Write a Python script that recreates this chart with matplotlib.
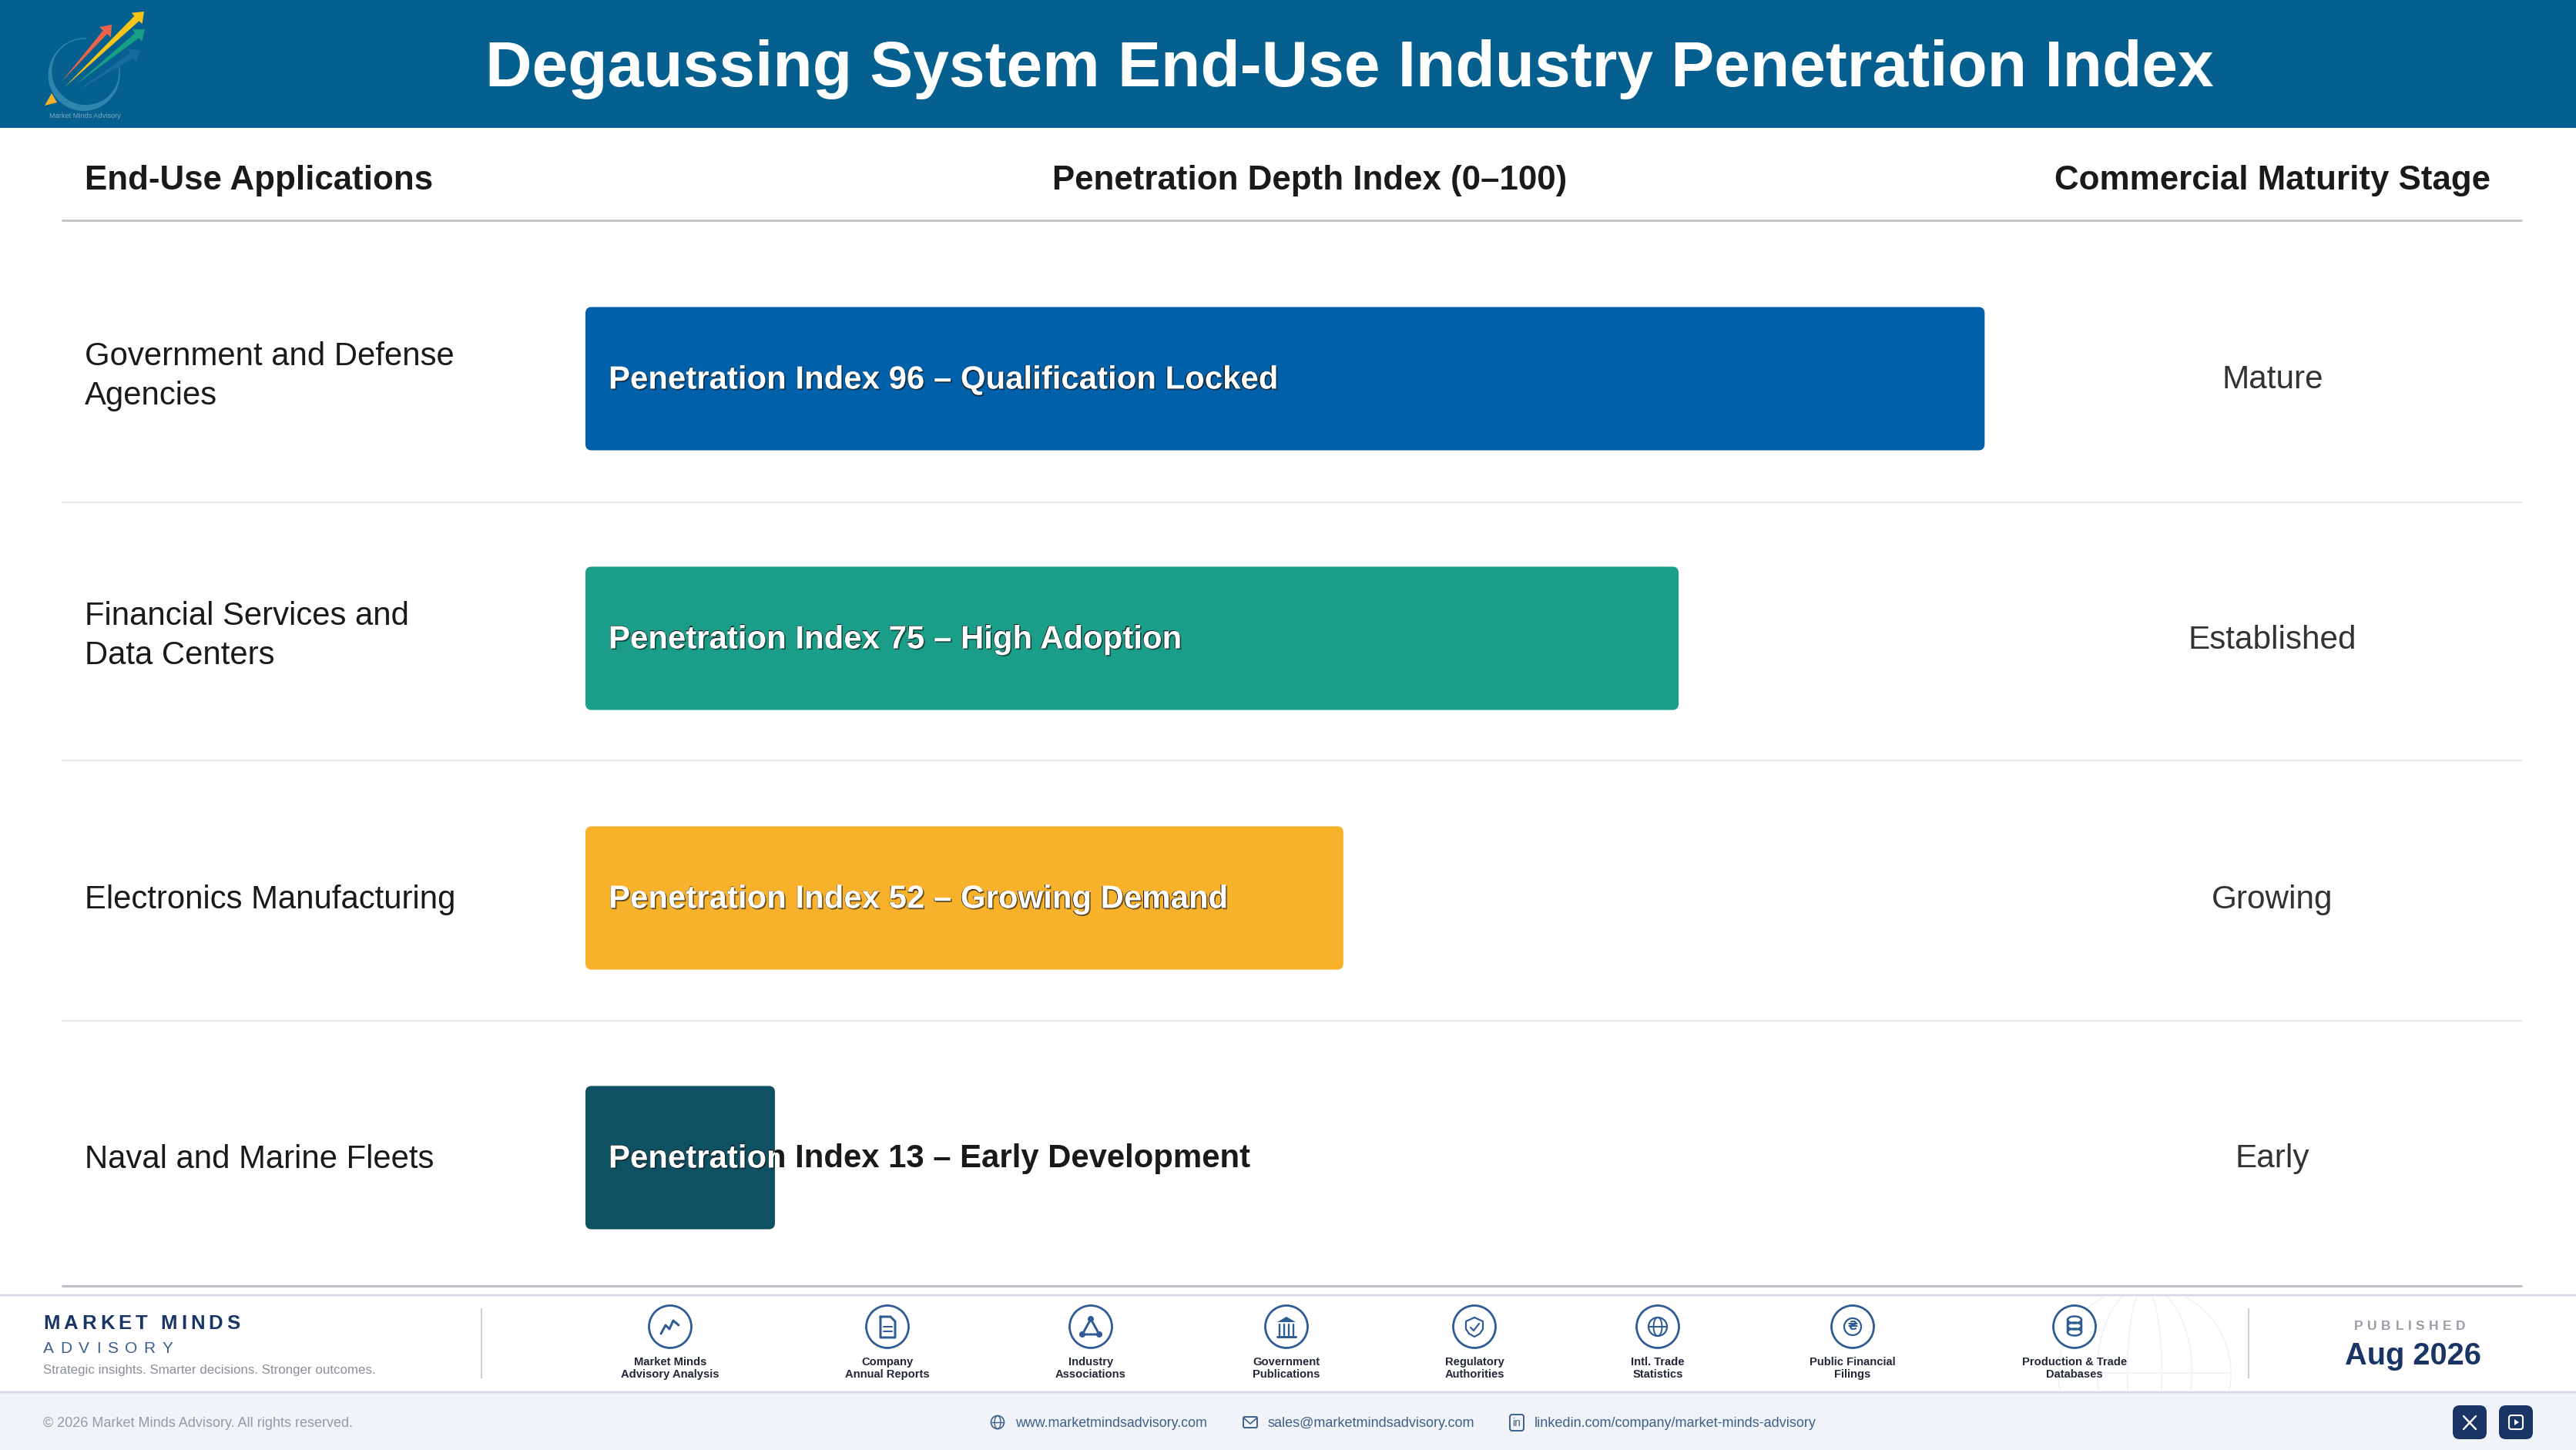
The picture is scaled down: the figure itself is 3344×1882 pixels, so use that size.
import matplotlib
matplotlib.use("Agg")
import matplotlib.pyplot as plt
import matplotlib.patheffects as pe
from matplotlib.patches import Circle, FancyBboxPatch, Polygon, Ellipse, Rectangle
from matplotlib.transforms import blended_transform_factory
import numpy as np

plt.rcParams['font.family'] = ['Liberation Sans', 'DejaVu Sans']

W, H = 3344, 1882

# data
title = "Degaussing System End-Use Industry Penetration Index"
col_heads = ["End-Use Applications", "Penetration Depth Index (0–100)", "Commercial Maturity Stage"]
applications = ["Government and Defense\nAgencies", "Financial Services and\nData Centers",
                "Electronics Manufacturing", "Naval and Marine Fleets"]
index_values = [96, 75, 52, 13]
index_notes = ["Qualification Locked", "High Adoption", "Growing Demand", "Early Development"]
stages = ["Mature", "Established", "Growing", "Early"]
bar_colors = ["#0060A9", "#1A9E8A", "#F8B12A", "#0E5163"]
sources = ["Market Minds\nAdvisory Analysis", "Company\nAnnual Reports", "Industry\nAssociations",
           "Government\nPublications", "Regulatory\nAuthorities", "Intl. Trade\nStatistics",
           "Public Financial\nFilings", "Production & Trade\nDatabases"]
source_x = [870, 1152, 1416, 1670, 1914, 2152, 2405, 2693]

NAVY = "#1A3565"
ICON = "#2F5C94"

fig = plt.figure(figsize=(W / 100, H / 100), dpi=100, facecolor="white")

# whole page axes, in pixels
px = fig.add_axes([0, 0, 1, 1])
px.set_xlim(0, W)
px.set_ylim(H, 0)
px.axis("off")

# bars axes: x is the 0-100 index, y is the row number
bar_left, bar_right = 760, 2652
row_h = 337
top = 491.5 - row_h / 2
ax = fig.add_axes([bar_left / W, 1 - (top + 4 * row_h) / H, (bar_right - bar_left) / W, 4 * row_h / H])
ax.set_xlim(0, 100)
ax.set_ylim(3.5, -0.5)
ax.axis("off")
ax.patch.set_alpha(0)
row_tf = blended_transform_factory(px.transData, ax.transData)
txt_dy = 2 / row_h  # text sits a little under the bar middle


def pxrect(x0, y0, x1, y1, color, z=1):
    px.add_patch(Rectangle((x0, y0), x1 - x0, y1 - y0, fc=color, ec="none", zorder=z))


def pxline(x0, y0, x1, y1, color, lw, z=2):
    px.plot([x0, x1], [y0, y1], color=color, lw=lw * 0.72, solid_capstyle="butt", zorder=z)


def spaced(x, y, s, size, color, gap, weight="normal"):
    # letter spacing by hand, matplotlib has none
    r = fig.canvas.get_renderer()
    for ch in s:
        t = px.text(x, y, ch, fontsize=size, color=color, weight=weight, va="center", ha="left")
        if ch == " ":
            x += size * 0.39 + gap
        else:
            x += t.get_window_extent(r).width + gap


# header band + logo
pxrect(0, 0, W, 166, "#05608F")
px.text(1752, 90, title, color="white", fontsize=60.4, weight="bold", ha="center", va="center")

# logo
t = np.radians(np.linspace(-10, 235, 80))
cx, cy, rad = 110, 95, 45
wid = 1.0 + 5 * np.sin((t - t[0]) / (t[-1] - t[0]) * np.pi) ** 2
for i in range(len(t) - 1):
    px.plot(cx + rad * np.cos(t[i:i + 2]), cy + rad * np.sin(t[i:i + 2]), color="#2E86AC",
            lw=wid[i], solid_capstyle="round", zorder=2)
arc_top = np.radians(np.linspace(235, 272, 14))
px.plot(cx + rad * np.cos(arc_top), cy + rad * np.sin(arc_top), color="#2E86AC", lw=1.0, zorder=2)


def logo_arrow(x0, y0, x1, y1, color, w=7, head=10, alpha=1.0):
    d = np.array([x1 - x0, y1 - y0], float)
    L = np.hypot(*d)
    d /= L
    n = np.array([-d[1], d[0]])
    a, b = np.array([x0, y0], float), np.array([x1, y1], float)
    neck = b - d * 13
    pts = [a, neck + n * w / 2, neck + n * head, b, neck - n * head, neck - n * w / 2]
    px.add_patch(Polygon(pts, closed=True, fc=color, ec="none", alpha=alpha, zorder=3))


logo_arrow(100, 118, 182, 65, "#1F6FA5", w=8, alpha=0.75)
logo_arrow(98, 110, 188, 38, "#17A084", w=8)
logo_arrow(80, 106, 145, 32, "#E8634A", w=7)
logo_arrow(84, 113, 187, 15, "#F7C518", w=9)
px.add_patch(Polygon([(58, 137), (67, 121), (74, 133)], closed=True, fc="#F9B22A", ec="none", zorder=3))
px.text(110, 150, "Market Minds Advisory", fontsize=6.6, color="#7FA9C0", ha="center", va="center")

# column heads
px.text(110, 234, col_heads[0], fontsize=31.6, weight="bold", color="#1A1A1A", ha="left", va="center")
px.text(1700, 234, col_heads[1], fontsize=31.6, weight="bold", color="#1A1A1A", ha="center", va="center")
px.text(2950, 234, col_heads[2], fontsize=31.6, weight="bold", color="#1A1A1A", ha="center", va="center")
pxline(80, 286, 3274, 286, "#C4C6CC", 3)

# row separators
for yy in [652, 987, 1325]:
    pxline(80, yy, 3274, yy, "#E6E8EC", 2)
pxline(80, 1669, 3274, 1669, "#BFC0C7", 3)

# rows
for i, (app, stage) in enumerate(zip(applications, stages)):
    # two-line labels sit a touch higher
    app_dy = -3 / row_h if "\n" in app else txt_dy
    px.text(110, i + app_dy, app, transform=row_tf, fontsize=30.2, color="#1A1A1A", ha="left", va="center", linespacing=1.38)
    px.text(2950, i + txt_dy, stage, transform=row_tf, fontsize=30.4, color="#333333", ha="center", va="center")

bar_h = 186 / row_h
for i, (v, c, note) in enumerate(zip(index_values, bar_colors, index_notes)):
    box = FancyBboxPatch((0, i - bar_h / 2), v, bar_h, boxstyle="round,pad=0,rounding_size=0.42",
                         mutation_aspect=((bar_right - bar_left) / 100) / row_h, fc=c, ec="none", zorder=2)
    ax.add_patch(box)
    label = f"Penetration Index {v} – {note}"
    # dark copy underneath shows where the label runs past the bar
    ax.text(790, i + txt_dy, label, transform=row_tf, fontsize=30.2, weight="bold", color="#1A1A1A",
            ha="left", va="center", zorder=3)
    front = ax.text(790, i + txt_dy, label, transform=row_tf, fontsize=30.2, weight="bold", color="white",
                    ha="left", va="center", zorder=4, clip_on=True,
                    path_effects=[pe.SimplePatchShadow(offset=(1.2, -1.2), shadow_rgbFace="#111111", alpha=0.6),
                                  pe.Normal()])
    front.set_clip_path(box)

# footer
pxrect(0, 1807, W, H, "#F0F4F8")
pxline(0, 1681, W, 1681, "#D3D6E4", 2.5)
pxline(0, 1807, W, 1807, "#D3D6E4", 2.5)
pxline(625, 1698, 625, 1789, "#CBCFDA", 2)
pxline(2919, 1698, 2919, 1789, "#CBCFDA", 2)

# globe watermark
clip = Rectangle((2600, 1682), 400, 124, transform=px.transData)
gx, gy, gr = 2784, 1782, 112
for e in [Circle((gx, gy), gr), Ellipse((gx, gy), gr * 1.1, gr * 2), Ellipse((gx, gy), gr * 0.4, gr * 2),
          Ellipse((gx, gy + 100), gr * 1.9, gr * 1.3)]:
    e.set(fc="none", ec="#F1F2F5", lw=1.2, zorder=1.5)
    px.add_patch(e)
    e.set_clip_path(clip)
pxline(gx - gr, gy, gx + gr, gy, "#F1F2F5", 2, z=1.5)

spaced(56, 1718, "MARKET MINDS", 18.5, NAVY, 5.0, weight="bold")
spaced(56, 1750, "ADVISORY", 15, "#3E5F8A", 8.6)
px.text(56, 1778, "Strategic insights. Smarter decisions. Stronger outcomes.", fontsize=12.2, color="#8A8F98", ha="left", va="center")
px.text(56, 1848, "© 2026 Market Minds Advisory. All rights reserved.", fontsize=12.95, color="#949AA5", ha="left", va="center")

spaced(3056, 1722, "PUBLISHED", 12.5, "#9A9DA5", 5.6, weight="bold")
px.text(3132, 1760, "Aug 2026", fontsize=28.6, weight="bold", color=NAVY, ha="center", va="center")


def ln(xs, ys, lw=2.2, color=ICON):
    px.plot(xs, ys, color=color, lw=lw * 0.72, zorder=4, solid_capstyle="round", solid_joinstyle="round")


def source_icon(k, x, y):
    if k == 0:   # trend line
        ln(np.array([-12, -6, -1, 4, 11]) + x, np.array([9, -2, 3, -8, -2]) + y, lw=3)
    elif k == 1:  # document
        ln(np.array([-9, 4, 10, 10, -9, -9]) + x, np.array([-13, -13, -7, 14, 14, -13]) + y, lw=3)
        ln([x - 5, x + 6], [y, y], lw=2)
        ln([x - 5, x + 6], [y + 6, y + 6], lw=2)
    elif k == 2:  # network triangle
        ln(np.array([0, -11, 11, 0]) + x, np.array([-10, 10, 10, -10]) + y, lw=3)
        for a, b in [(0, -10), (-11, 10), (11, 10)]:
            px.add_patch(Circle((x + a, y + b), 4, fc=ICON, ec="none", zorder=4))
    elif k == 3:  # government building
        px.add_patch(Polygon([(x - 12, y - 6), (x, y - 13), (x + 12, y - 6)], fc=ICON, ec="none", zorder=4))
        for a in [-9, -3, 3, 9]:
            ln([x + a, x + a], [y - 3, y + 11], lw=2.4)
        ln([x - 12, x + 12], [y + 13, y + 13], lw=3)
    elif k == 4:  # shield
        ln(np.array([0, 11, 11, 7, 0, -7, -11, -11, 0]) + x, np.array([-12, -7, 3, 9, 13, 9, 3, -7, -12]) + y, lw=2.2)
        ln(np.array([-5, -1, 6]) + x, np.array([1, 5, -4]) + y, lw=2.2)
    elif k == 5:  # globe
        px.add_patch(Circle((x, y), 12, fc="none", ec=ICON, lw=1.6, zorder=4))
        px.add_patch(Ellipse((x, y), 11, 24, fc="none", ec=ICON, lw=1.4, zorder=4))
        ln([x - 12, x + 12], [y, y], lw=2)
    elif k == 6:  # coin
        px.add_patch(Circle((x, y), 11, fc="none", ec=ICON, lw=1.6, zorder=4))
        px.text(x, y, "₴", fontsize=11, color=ICON, weight="bold", ha="center", va="center", zorder=4,
                family=["DejaVu Sans"])
    else:  # database
        for b in [-9, -1, 7]:
            px.add_patch(Ellipse((x, y + b), 18, 9, fc="none", ec=ICON, lw=1.8, zorder=4))
        ln([x - 9, x - 9], [y - 9, y + 7], lw=2.4)
        ln([x + 9, x + 9], [y - 9, y + 7], lw=2.4)


for k, (s, x) in enumerate(zip(sources, source_x)):
    px.add_patch(Circle((x, 1722), 27.5, fc="white", ec=ICON, lw=2.0, zorder=3))
    source_icon(k, x, 1722)
    px.text(x, 1776, s, fontsize=10.6, weight="bold", color="#22283A", ha="center", va="center",
            linespacing=1.27, zorder=4)

# contact row
LINK = "#3E5F8A"
px.add_patch(Circle((1295, 1846), 8.5, fc="none", ec=LINK, lw=1.2, zorder=4))
px.add_patch(Ellipse((1295, 1846), 8, 17, fc="none", ec=LINK, lw=1.0, zorder=4))
ln([1287, 1303], [1846, 1846], lw=1.4, color=LINK)
px.text(1318, 1848, "www.marketmindsadvisory.com", fontsize=12.9, color=LINK, ha="left", va="center")
px.add_patch(FancyBboxPatch((1614, 1839), 18, 14, boxstyle="round,pad=0,rounding_size=2", fc="none", ec=LINK, lw=1.4, zorder=4))
ln([1614, 1623, 1632], [1840, 1848, 1840], lw=1.6, color=LINK)
px.text(1646, 1848, "sales@marketmindsadvisory.com", fontsize=12.95, color=LINK, ha="left", va="center")
px.add_patch(FancyBboxPatch((1960, 1836), 18, 21, boxstyle="round,pad=0,rounding_size=3", fc="none", ec=LINK, lw=1.4, zorder=4))
px.text(1969, 1847, "in", fontsize=10, color=LINK, ha="center", va="center", zorder=5)
px.text(1992, 1848, "linkedin.com/company/market-minds-advisory", fontsize=12.95, color=LINK, ha="left", va="center")

# social buttons
for x0 in [3184, 3244]:
    px.add_patch(FancyBboxPatch((x0, 1824), 44, 44, boxstyle="round,pad=0,rounding_size=9", fc=NAVY, ec="none", zorder=3))
ln([3198, 3214], [1838, 1855], lw=2.4, color="white")
ln([3214, 3198], [1838, 1855], lw=2.4, color="white")
px.add_patch(FancyBboxPatch((3257, 1837), 18, 18, boxstyle="round,pad=0,rounding_size=3", fc="none", ec="white", lw=1.5, zorder=4))
px.add_patch(Polygon([(3264, 1842), (3264, 1850), (3270, 1846)], fc="white", ec="none", zorder=5))

fig.savefig("out.png", dpi=100)
